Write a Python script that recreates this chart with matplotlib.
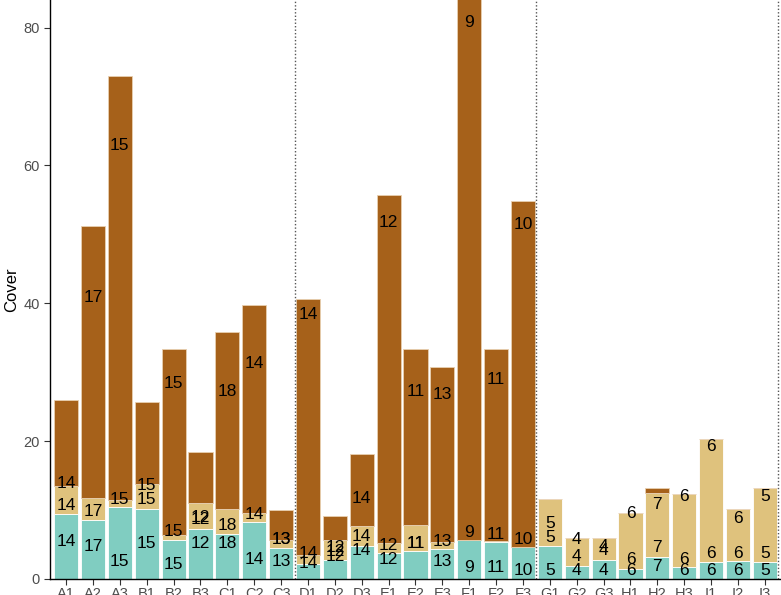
import matplotlib
matplotlib.use("Agg")
import matplotlib.pyplot as plt
import numpy as np

plt.rcParams['font.family'] = ['Liberation Sans', 'DejaVu Sans']

categories = ["A1", "A2", "A3", "B1", "B2", "B3", "C1", "C2", "C3",
              "D1", "D2", "D3", "E1", "E2", "E3", "F1", "F2", "F3",
              "G1", "G2", "G3", "H1", "H2", "H3", "I1", "I2", "I3"]

# segment heights (bottom: teal, middle: tan, top: brown)
teal = [9.5, 8.6, 10.5, 10.2, 5.7, 7.3, 6.6, 8.3, 4.5,
        2.2, 2.8, 4.8, 3.8, 4.0, 4.35, 5.6, 5.3, 4.7,
        4.8, 1.9, 2.8, 1.45, 3.2, 1.7, 2.5, 2.6, 2.5]
tan_top = [13.5, 11.8, 11.5, 13.8, 6.4, 11.0, 10.2, 9.6, 5.7,
           3.5, 5.7, 7.7, 5.2, 7.8, 5.3, 5.6, 5.5, 4.7,
           11.6, 5.9, 5.9, 9.6, 12.5, 12.4, 20.3, 10.1, 13.2]
total = [26.0, 51.2, 73.0, 25.7, 33.4, 18.4, 35.9, 39.7, 10.0,
         40.6, 9.1, 18.2, 55.7, 33.4, 30.7, 92.0, 33.3, 54.8,
         11.6, 5.9, 5.9, 9.6, 13.2, 12.4, 20.3, 10.1, 13.2]

# sample sizes shown as labels
n_labels = [14, 17, 15, 15, 15, 12, 18, 14, 13,
            14, 12, 14, 12, 11, 13, 9, 11, 10,
            5, 4, 4, 6, 7, 6, 6, 6, 5]

# label heights (data units) for each of the three labels per bar
label_y1 = [5.4, 4.7, 2.5, 5.1, 2.1, 5.2, 5.1, 2.8, 2.6,
            2.3, 3.3, 4.2, 2.9, 5.2, 2.5, 1.6, 1.6, 1.3,
            1.3, 1.3, 1.3, 1.3, 1.8, 1.3, 1.3, 1.3, 1.3]
label_y2 = [10.6, 9.8, 11.6, 11.5, 6.9, 8.7, 7.8, 9.4, 5.7,
            3.7, 4.0, 6.2, 4.9, 5.2, 5.4, 6.7, 6.5, 5.7,
            6.0, 3.2, 4.2, 2.8, 4.5, 2.9, 3.7, 3.7, 3.7]
label_y3 = [13.8, 40.9, 62.9, 13.5, 28.4, 8.9, 27.2, 31.3, 5.8,
            38.4, 4.6, 11.7, 51.7, 27.2, 26.7, 80.7, 29.0, 51.5,
            8.0, 5.7, 4.7, 9.5, 10.8, 12.0, 19.2, 8.8, 11.9]

separators = [9.5, 18.5, 27.5]

c_teal = "#80CDC1"
c_tan = "#DFC27D"
c_brown = "#A6611A"

teal_a = np.array(teal)
tan_a = np.array(tan_top) - teal_a
brown_a = np.array(total) - np.array(tan_top)
x = np.arange(1, len(categories) + 1)

fig = plt.figure(figsize=(7.81, 5.95), dpi=100)
ax = fig.add_axes([50/781, 16/595, 731/781, 579/595])

ax.bar(x, teal_a, width=0.9, color=c_teal, edgecolor="white", linewidth=0.6)
ax.bar(x, tan_a, width=0.9, bottom=teal_a, color=c_tan, edgecolor="white", linewidth=0.6)
ax.bar(x, brown_a, width=0.9, bottom=np.array(tan_top), color=c_brown,
       edgecolor="#E8D0B0", linewidth=0.6)

for xi, n, a, b, c in zip(x, n_labels, label_y1, label_y2, label_y3):
    for yy in (a, b, c):
        ax.text(xi, yy, str(n), ha="center", va="center", fontsize=12.5, color="black")

for s in separators:
    ax.axvline(s, color="#555555", linestyle=(0, (1, 1.5)), linewidth=1.0)

ax.set_xlim(0.4, 27.6)
ax.set_ylim(0, 84.0)
ax.set_xticks(x)
ax.set_xticklabels(categories)
ax.set_yticks([0, 20, 40, 60, 80])
ax.tick_params(axis="both", colors="#333333", labelcolor="#4D4D4D",
               labelsize=10.5, length=4, width=0.8)
ax.tick_params(axis="x", pad=2)
for side in ("top", "right"):
    ax.spines[side].set_visible(False)
for side in ("left", "bottom"):
    ax.spines[side].set_color("black")
    ax.spines[side].set_linewidth(1.0)
ax.set_ylabel("Cover", fontsize=12, color="black")
ax.yaxis.set_label_coords(-0.0424, 0.5)

fig.savefig("out.png", dpi=100)
